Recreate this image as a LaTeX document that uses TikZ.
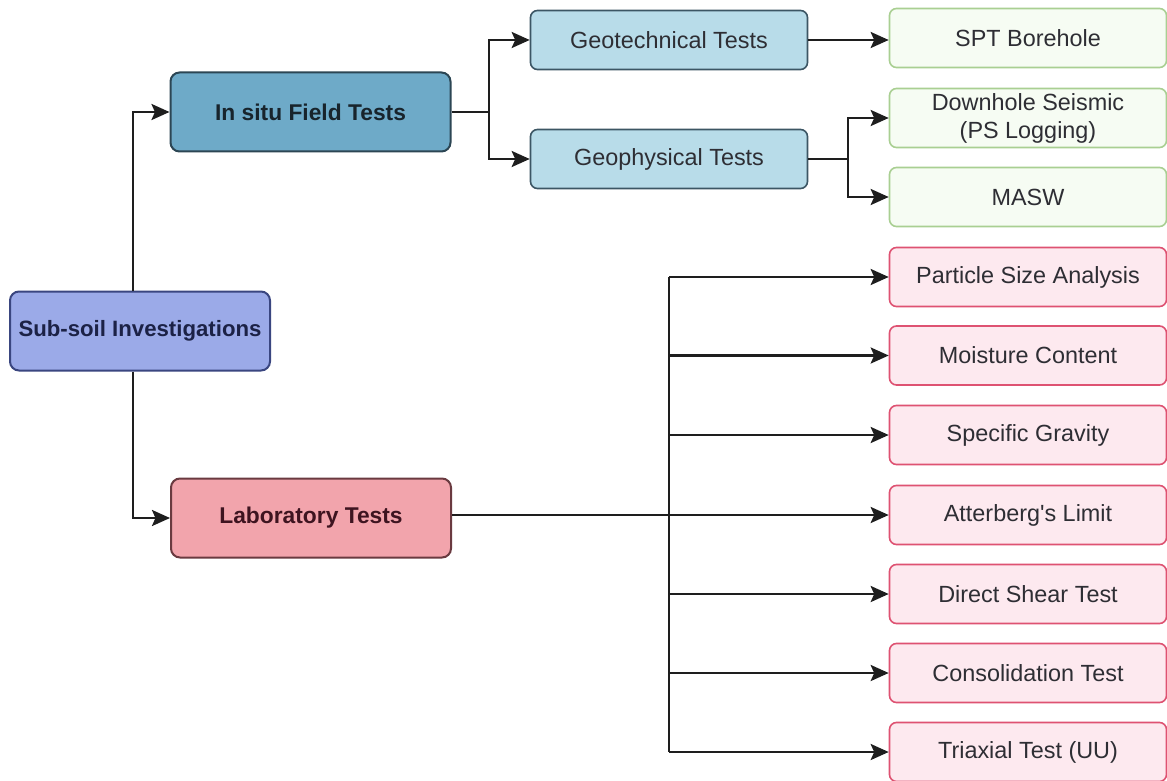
\documentclass[tikz,border=0pt]{standalone}
\usepackage{fontspec}
\setmainfont{Liberation Sans}
\usetikzlibrary{arrows.meta}

\definecolor{rootfill}{HTML}{9BAAE8}
\definecolor{rootdraw}{HTML}{3A4680}
\definecolor{roottext}{HTML}{1C2246}
\definecolor{fieldfill}{HTML}{6EAAC8}
\definecolor{fielddraw}{HTML}{2C4654}
\definecolor{fieldtext}{HTML}{18242C}
\definecolor{labfill}{HTML}{F2A4AC}
\definecolor{labdraw}{HTML}{6A3A40}
\definecolor{labtext}{HTML}{3E1420}
\definecolor{geofill}{HTML}{B8DCE9}
\definecolor{geodraw}{HTML}{3C5664}
\definecolor{leaffill}{HTML}{F6FCF3}
\definecolor{leafdraw}{HTML}{A9CF92}
\definecolor{testfill}{HTML}{FDE9EF}
\definecolor{testdraw}{HTML}{DE5272}
\definecolor{bodytext}{HTML}{2E2E34}
\definecolor{wire}{HTML}{1E1E1E}

\tikzset{
  mainbox/.style={draw, line width=2pt, rounded corners=9pt,
    minimum width=280pt, minimum height=79pt, inner sep=0pt,
    font=\fontsize{22.8}{27}\selectfont\bfseries, align=center},
  rootbox/.style={mainbox, fill=rootfill, draw=rootdraw, text=roottext,
    minimum width=260pt, font=\fontsize{22.2}{27}\selectfont\bfseries},
  fieldbox/.style={mainbox, fill=fieldfill, draw=fielddraw, text=fieldtext},
  labbox/.style={mainbox, fill=labfill, draw=labdraw, text=labtext},
  subbox/.style={draw, line width=1.6pt, rounded corners=7pt,
    minimum width=277pt, minimum height=59pt, inner sep=0pt,
    font=\fontsize{23.4}{28}\selectfont, align=center, text=bodytext},
  geobox/.style={subbox, fill=geofill, draw=geodraw},
  leafbox/.style={subbox, fill=leaffill, draw=leafdraw},
  testbox/.style={subbox, fill=testfill, draw=testdraw},
  wire/.style={draw=wire, line width=2.6pt},
  arrowwire/.style={wire, -{Stealth[length=18pt,width=16pt,inset=3.5pt]}}
}

\begin{document}
\begin{tikzpicture}[x=1pt,y=-1pt]
  \useasboundingbox (0,0) rectangle (1167,781);
  \fill[white] (0,0) rectangle (1167,781);

  % main branches
  \node[rootbox]  (root)  at (140,331) {Sub-soil Investigations};
  \node[fieldbox] (field) at (310.5,112) {In situ Field Tests};
  \node[labbox]   (lab)   at (311,518) {Laboratory Tests};

  % field test groups
  \node[geobox] (geotech) at (669,40)  {Geotechnical Tests};
  \node[geobox] (geophys) at (669,159) {Geophysical Tests};

  % field test leaves
  \node[leafbox] (spt)  at (1028,38)  {SPT Borehole};
  \node[leafbox] (down) at (1028,118) {Downhole Seismic\\(PS Logging)};
  \node[leafbox] (masw) at (1028,197) {MASW};

  % laboratory tests
  \node[testbox] (psa)  at (1028,277) {Particle Size Analysis};
  \node[testbox] (mc)   at (1028,355.5) {Moisture Content};
  \node[testbox] (sg)   at (1028,435) {Specific Gravity};
  \node[testbox] (al)   at (1028,515) {Atterberg\textquotesingle s Limit};
  \node[testbox] (dst)  at (1028,594) {Direct Shear Test};
  \node[testbox] (ct)   at (1028,673) {Consolidation Test};
  \node[testbox] (tri)  at (1028,752) {Triaxial Test (UU)};

  % junction points
  \coordinate (rootx) at (133,0);
  \coordinate (fieldj) at (489,0);
  \coordinate (geoj) at (848,0);
  \coordinate (labj) at (669,0);

  % root to main branches
  \draw[arrowwire] (rootx |- root.north) |- (field.west);
  \draw[arrowwire] (rootx |- root.south) |- (lab.west);

  % in situ field tests
  \draw[wire] (field.east) -- (fieldj |- field.east);
  \draw[arrowwire] (fieldj |- field.east) |- (geotech.west);
  \draw[arrowwire] (fieldj |- field.east) |- (geophys.west);
  \draw[arrowwire] (geotech.east) -- (spt.west |- geotech.east);

  % geophysical tests
  \draw[wire] (geophys.east) -- (geoj |- geophys.east);
  \draw[arrowwire] (geoj |- geophys.east) |- (down.west);
  \draw[arrowwire] (geoj |- geophys.east) |- (masw.west);

  % laboratory tests bus
  \draw[arrowwire] (lab.east |- al.west) -- (al.west);
  \draw[wire] (labj |- psa.west) -- (labj |- tri.west);
  \foreach \t in {psa,mc,sg,dst,ct,tri}
    \draw[arrowwire] (labj |- \t.west) -- (\t.west);
\end{tikzpicture}
\end{document}
